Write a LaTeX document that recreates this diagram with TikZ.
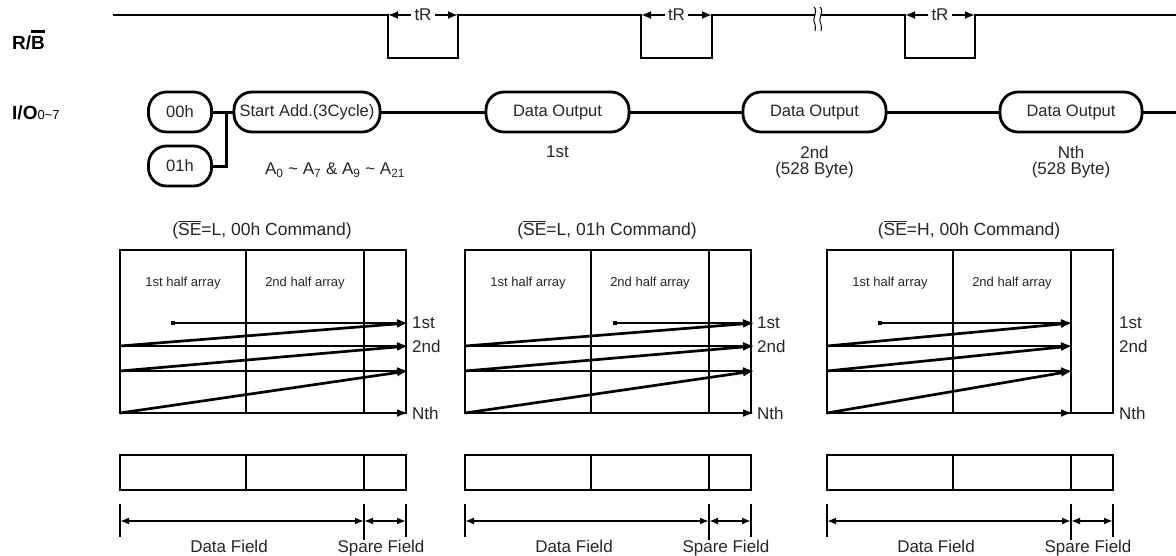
\documentclass[tikz,border=0pt]{standalone}
\usepackage{fontspec}
\setmainfont{Liberation Sans}
\usetikzlibrary{arrows.meta,calc}
\newcommand\ovbar[3][1pt]{\vbox{\hrule height #1\kern #2\hbox{#3}}}
\begin{document}
\begin{tikzpicture}[x=1pt,y=-1pt,
 txt/.style={font=\fontsize{17}{20}\selectfont, inner sep=0pt, text=black!85},
 small/.style={font=\fontsize{13}{15}\selectfont, inner sep=0pt, text=black!85},
 pill/.style={draw, line width=2.8pt, rounded corners=18pt, minimum height=40pt, inner sep=0pt, font=\fontsize{16.5}{19}\selectfont, text=black!85},
 sig/.style={line width=1.9pt},
 conn/.style={line width=3pt},
 tip/.style={-{Latex[length=10pt,width=8pt]}},
 atip/.style={-{Latex[length=11pt,width=8pt]}},
 dtip/.style={{Latex[length=9pt,width=7pt]}-{Latex[length=9pt,width=7pt]}},
 bx/.style={line width=2.6pt},
 big/.style={font=\fontsize{19}{21}\selectfont\bfseries, inner sep=0pt},
]
\useasboundingbox (0,0) rectangle (1176,555);
% signal labels
\node[big, anchor=west] (rb) at (12,40) {R/\ovbar[2.8pt]{3pt}{B}};
\node[big, anchor=west] (io) at (12,113) {I/O{\mdseries\fontsize{13}{13}\selectfont 0\textasciitilde 7}};
% R/B waveform
\coordinate (rbs) at (113,15);
\coordinate (rbe) at (1176,15);
\coordinate (lo) at (0,58);
\coordinate (t1a) at (388,15); \coordinate (t1b) at (458,15);
\coordinate (t2a) at (641,15); \coordinate (t2b) at (712,15);
\coordinate (t3a) at (905,15); \coordinate (t3b) at (975,15);
\draw[sig] (rbs) -- (t1a) -- (t1a |- lo) -- (t1b |- lo) -- (t1b)
  -- (t2a) -- (t2a |- lo) -- (t2b |- lo) -- (t2b)
  -- (t3a) -- (t3a |- lo) -- (t3b |- lo) -- (t3b) -- (rbe);
\foreach \a/\b/\i in {t1a/t1b/1,t2a/t2b/2,t3a/t3b/3}{
  \node[txt, fill=white, inner xsep=3pt] (tr\i) at ($(\a)!0.5!(\b)$) {tR};
  \draw[sig, tip] (tr\i.west) -- (\a);
  \draw[sig, tip] (tr\i.east) -- (\b);
}
% break mark
\fill[white] (815,10) rectangle (821,21);
\draw[line width=1pt] (814,7) .. controls (819,12) and (811,18) .. (815,24) .. controls (817,27) and (814,29) .. (815,31);
\draw[line width=1pt] (820,7) .. controls (825,12) and (817,18) .. (821,24) .. controls (823,27) and (820,29) .. (821,31);
% I/O row
\node[pill, minimum width=63pt] (p00) at (180,112) {00h};
\node[pill, minimum width=63pt] (p01) at (180,166) {01h};
\node[pill, minimum width=146pt] (pst) at (307,112) {Start Add.(3Cycle)};
\node[pill, minimum width=143pt] (d1) at (557.5,112) {Data Output};
\node[pill, minimum width=143pt] (d2) at (814.5,112) {Data Output};
\node[pill, minimum width=142pt] (dn) at (1071,112) {Data Output};
\coordinate (ioend) at (1176,112);
\coordinate (jn) at (226,112);
\draw[conn] (p00) -- (pst);
\draw[conn] (jn) |- (p01.east);
\draw[conn] (pst) -- (d1);
\draw[conn] (d1) -- (d2);
\draw[conn] (d2) -- (dn);
\draw[conn] (dn) -- (ioend);
\node[txt] (addr) at (335,170) {A\textsubscript{0} \textasciitilde{} A\textsubscript{7} \& A\textsubscript{9} \textasciitilde{} A\textsubscript{21}};
\node[txt] (l1) at (557.5,152) {1st};
\node[txt] (l2a) at (814.5,152) {2nd};
\node[txt] (l2b) at (814.5,170) {(528 Byte)};
\node[txt] (lna) at (1071,152) {Nth};
\node[txt] (lnb) at (1071,170) {(528 Byte)};
% memory maps
\foreach \ox/\dx/\ex/\ttl [count=\i] in {120/53/288/{L, 00h}, 465/150/289/{L, 01h}, 827/53/245/{H, 00h}}{
 \begin{scope}[xshift=\ox pt]
  \node[txt, font=\fontsize{17.5}{20}\selectfont] (ti\i) at (142,230) {(\ovbar[1.2pt]{1.5pt}{SE}=\ttl\ Command)};
  \draw[bx] (0,250) rectangle (286,413);
  \draw[bx] (126,250) -- (126,413);
  \draw[bx] (244,250) -- (244,413);
  \node[small] (ha\i) at (63,283) {1st half array};
  \node[small] (hb\i) at (185,283) {2nd half array};
  \fill (\dx-1.8,321.2) rectangle (\dx+1.8,324.8);
  \draw[line width=1.2pt, atip] (\dx,323) -- (\ex,323);
  \draw[line width=2.7pt, atip] (0,346) -- (\ex,323);
  \draw[line width=1.6pt, atip] (0,346) -- (\ex,346);
  \draw[line width=2.7pt, atip] (0,371) -- (\ex,346);
  \draw[line width=2.3pt, atip] (0,371) -- (\ex,371);
  \draw[line width=2.7pt, atip] (0,413) -- (\ex,371);
  \draw[line width=2.6pt, atip] (0,413) -- (\ex,413);
  \node[txt, anchor=west] (f\i) at (292,323) {1st};
  \node[txt, anchor=west] (s\i) at (292,346) {2nd};
  \node[txt, anchor=west] (n\i) at (292,413) {Nth};
  % page layout
  \draw[bx] (0,455) rectangle (286,490);
  \draw[bx] (126,455) -- (126,490);
  \draw[bx] (244,455) -- (244,490);
  \draw[line width=1.5pt] (0,504) -- (0,537);
  \draw[line width=1.5pt] (244,504) -- (244,540);
  \draw[line width=1.5pt] (286,504) -- (286,537);
  \draw[line width=2pt, dtip] (0,521) -- (244,521);
  \draw[line width=2pt, dtip] (244,521) -- (286,521);
  \node[txt, anchor=base] (df\i) at (109,552) {Data Field};
  \node[txt, anchor=base] (sf\i) at (261,552) {Spare Field};
 \end{scope}
}
\end{tikzpicture}
\end{document}
